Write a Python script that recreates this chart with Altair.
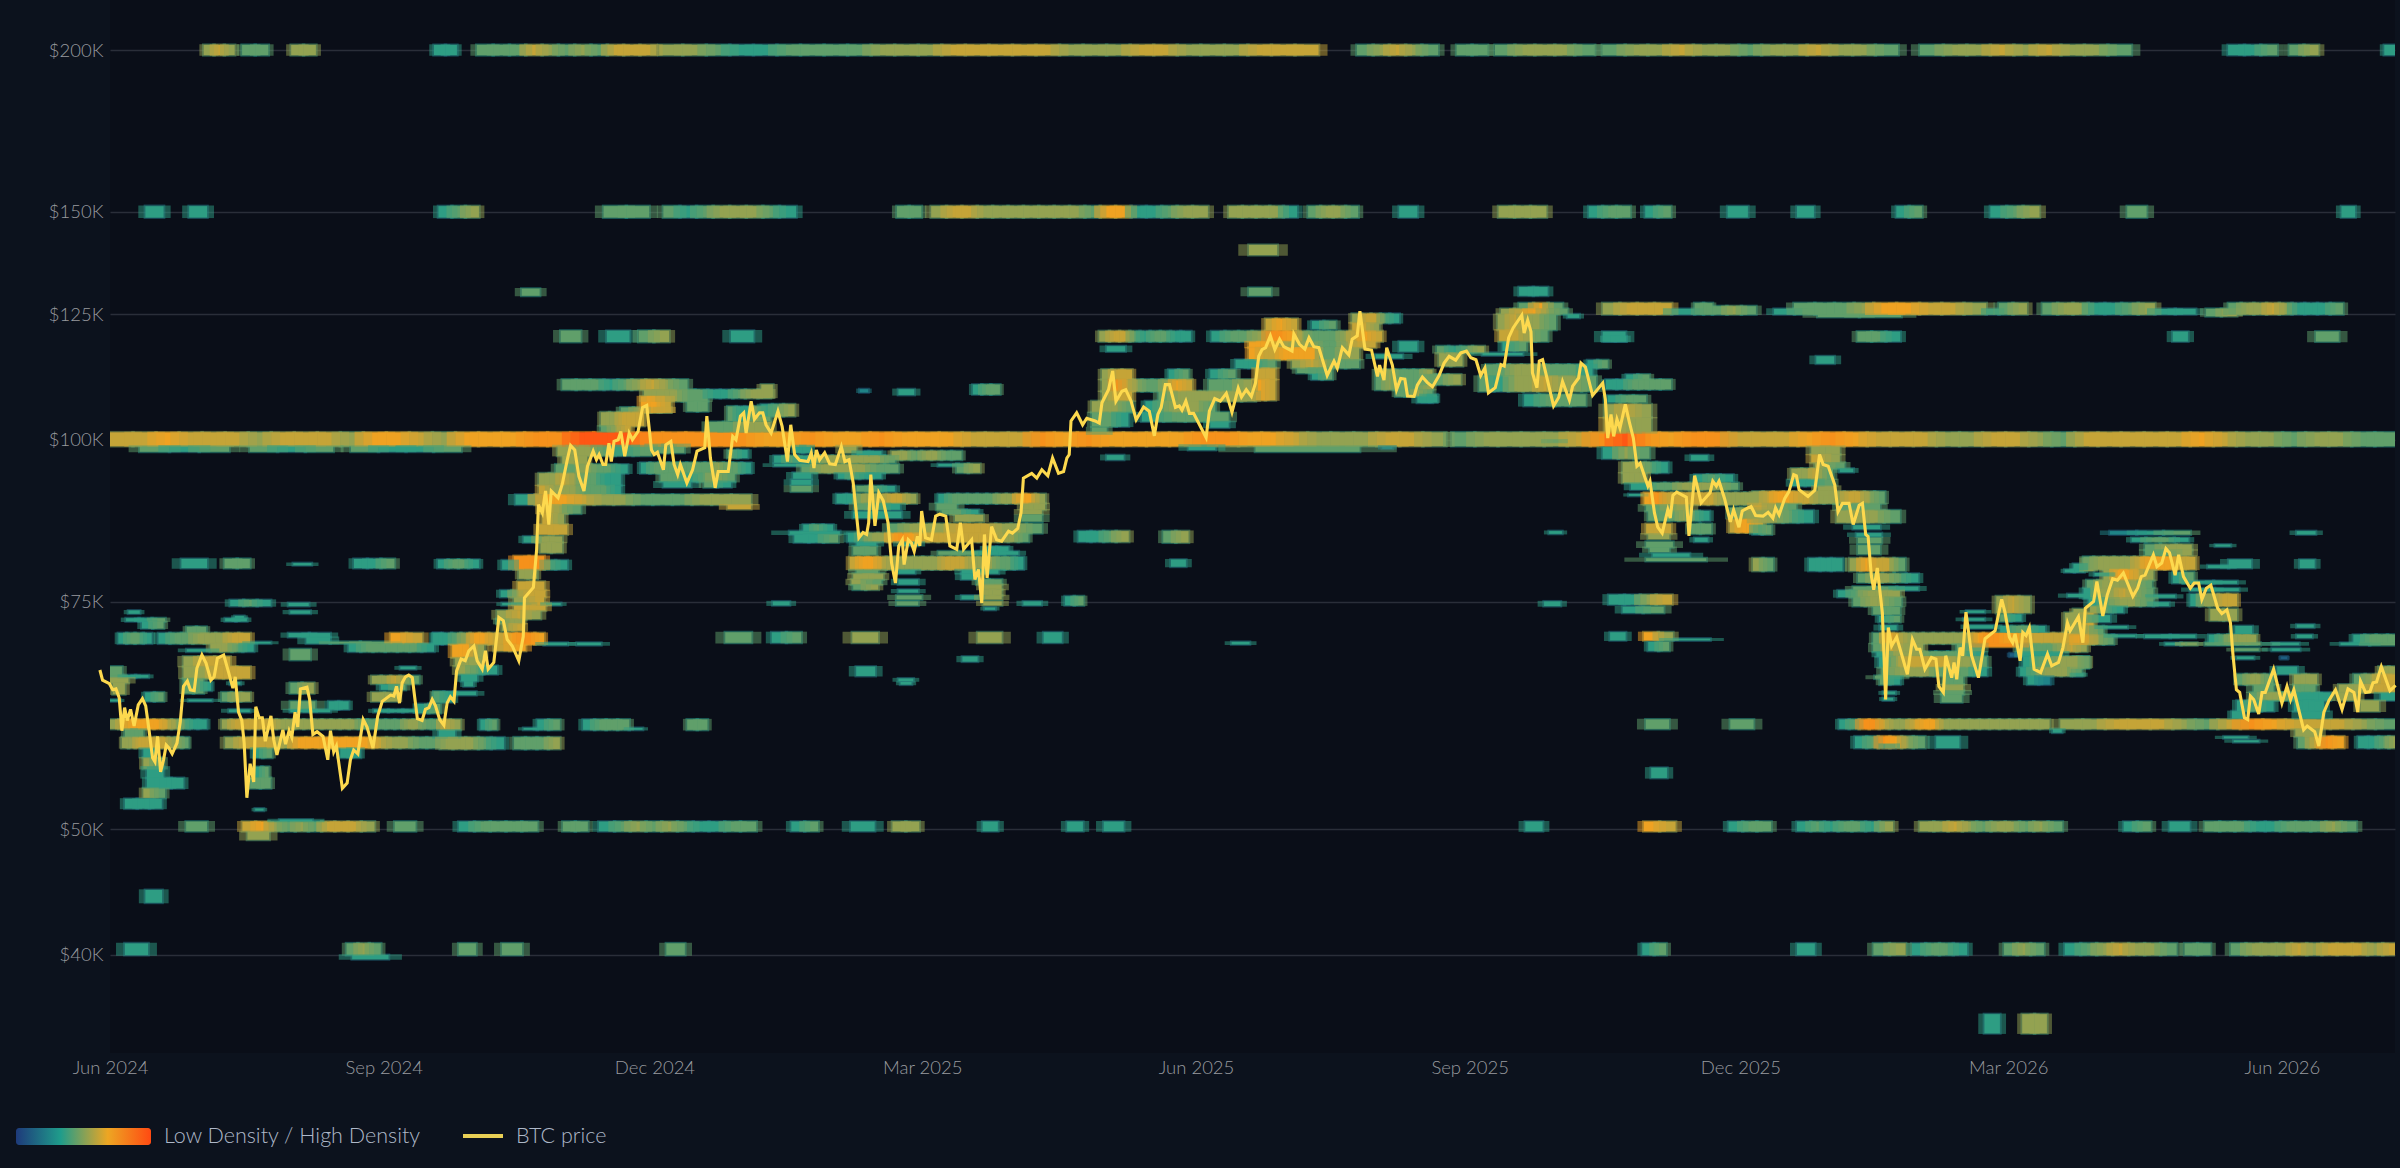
import altair as alt
import pandas as pd

alt.data_transformers.disable_max_rows()

# ---- BTC price: days since 1 Jun 2024, price in $K ----
price_day = [-3.4,-2.5,-0.2,0.9,2.0,3.1,4.0,4.9,5.8,6.9,8.1,9.5,10.9,12,13.1,14.3,15.1,16,17,18,18.9,19.8,20.9,22.5,23.6,24.7,26,27,28.3,29.2,30.9,32.3,33.9,35,36.1,38.2,39.8,41.3,42.1,43.2,44.3,45.1,46,47.1,48.3,49,50.1,51.2,52.2,54.1,55,56.1,58.1,59,60.2,61.1,62.2,63.1,64,66.2,67.1,68.2,69.6,71.6,73.2,74.1,75.2,76.1,78.1,79.7,80.8,81.9,83.3,85.1,86.4,88.4,90,91.5,94.3,95.4,96.3,97.3,98.2,99.3,100.4,101.6,103.3,104.9,106,107.2,108.3,109.4,
 110.8,112.2,113.3,114.4,115.6,116.5,118,119.4,120.6,122.3,123.4,125.1,126.2,127.1,129,130.7,132.2,133.5,135.2,137.4,138.9,139.3,142.3,143.4,144,145.3,146.4,147.5,148.3,150.6,152,153.7,154.8,156.2,157.6,159.3,160.5,162.4,163.5,164.4,165.7,166.6,167.7,168.5,169.4,170.8,171.7,173,174.5,175.6,177.5,179,180.4,182,182.9,184,186,186.8,188.5,189.6,190.8,191.7,193.9,195.8,197.3,199.9,200.6,201.8,203.4,204.4,207.8,209.3,210.4,211.9,213,213.8,215.5,216.6,218.3,219.4,220.5,222.2,
 224.5,225.9,227.7,228.8,230.1,231.8,234.6,235.7,236.6,237.4,238.5,240.2,241.9,243.8,245.8,247,248.4,249.8,251.7,253.1,254.3,255,255.7,257.1,258.4,259.9,261.5,262.7,264,265.1,266.3,266.9,268.3,269.4,270.3,271.4,272.2,272.8,274.1,276.1,277.5,278.9,280.9,282.3,284.6,285.8,286.9,289.6,290.7,291.9,293,293.9,294.8,296.3,298,299.7,302,303.3,305.1,306.2,307,309.8,311.5,313.2,315.2,316.8,318.8,320.5,321.6,322.4,323,324.9,326.9,328.3,331.1,332.5,333.4,
 335.6,337,338.1,340.1,341.4,343.2,344.9,347.4,349.3,351,352.2,353.3,354.7,356.1,358.1,359.4,360.3,361.6,362.8,364.2,368.4,369.5,371.3,373.2,375.2,377.1,379.2,380.3,381.9,383.6,385,386.1,387.2,388.4,390,391.5,393.1,394.5,397.3,397.9,399.8,401.6,403,404.6,406.3,409.1,411.4,412.5,414.2,416.4,417.5,419.2,420.1,421.8,424,426,426.7,428.2,429.1,431,432.4,433.8,435.2,436.1,438.3,439.4,441.1,442.8,444.5,
 446.7,448.4,450.1,452.3,454,455.9,457.4,459.1,460.7,462.1,463.3,465.6,467.5,468.6,470.1,471.6,474.5,475.3,476.5,477.6,478.1,479.6,480.4,481.5,485.2,486.9,488.2,490.5,491.6,493.6,494.4,495.9,498.3,501.7,502.6,503.4,504.5,505.4,506.5,507.5,509.3,510.7,512,513.2,514.3,515.7,516.9,517.6,519.1,520.2,521.7,523.6,524.4,525.3,526.6,529.8,530.7,532.6,534.8,536.3,537.8,538.7,539.9,540.8,542.7,544.6,545.7,547.5,548.6,550.5,551.6,553.1,555.6,
 557.3,558.9,559.8,561,562.9,564.3,565.9,566.8,567.7,570.7,573,574.6,575.8,577.5,579.7,580.8,582.3,584.5,585.9,587.9,589,590.1,590.9,592,592.8,594,595.7,596.8,597.7,598.8,600.5,604.1,605.8,607.2,608.3,610,612.2,613.7,614.7,616.2,617,619,619.8,620.7,621.8,622.7,623.8,625.7,628,630.2,633.6,635.8,636.9,638.4,639.5,640.3,642,642.9,644,645.1,646.7,648.9,651.2,652.6,654.9,656.4,657.9,658.8,661.6,663.1,663.9,666.7,
 667.8,669.8,671.3,673.1,674.7,676.7,679.9,681.5,682.7,684,686.8,688,689.6,691,692.2,694.1,695.3,696.9,699.2,700.5,702,703.1,704.6,706.1,708.4,709.8,711.5,712.7,713.5,714.7,715.8,717.4,718.5,719.4,720.5,722.2,723.3,724.4,727.2,730,731.7,732.9,734,737.3,738.5,741,742.4,744.1,745.8,748,750.2,752.2,754.2,755.5,756.4,758.1,759.6,760.6,761.8,763.4,766.3,768.2]
price_k = [66.4,65.2,64.8,64.1,64.2,63.2,59.6,62.1,60.7,61.9,60.1,62.4,63.1,62.3,59.7,56.8,56.4,59,55.4,56.6,58.1,57.8,57.2,58.3,60.5,64.5,65.1,64.1,64,66.6,68.2,67.2,65.2,65.6,67.8,68.2,66.2,64.3,65.6,61.6,60.7,58.3,52.9,56.2,54.4,62.2,61,61,58.5,61.2,58.7,57.1,59.7,58.2,59.6,58.9,61.6,60,64.2,64.4,63,59.2,59.5,59,56.6,59.6,57.4,58,53.8,54.3,56.6,57.6,57.2,60.8,60,57.8,61.2,62.8,63.5,63.4,64.5,62.6,64.9,65.6,65.8,65.5,60.9,60.7,61.9,62.1,63,62.3,
 60.8,60.2,62.6,63.3,62.8,66.3,67.7,67.5,68.7,69.3,67.5,66.5,68.7,66.5,67.3,72.9,72.5,70.1,69.3,67.5,70.5,75.5,76.9,82.3,89.1,87.8,91.3,86,91.3,90.2,92.4,96.5,99,98.2,93.7,91.3,95.4,98,96.5,97.4,95.7,95.7,99.4,96.2,99.7,100,101.5,97.1,101.2,100,101.5,105.9,106.3,98.2,97.4,97.8,94.8,99.1,99.7,95.7,94,95.7,92.6,94.8,98,98.6,104.3,96.8,91.8,94.5,94.5,100.6,100,104.3,104.9,101.2,107.1,103.7,104.9,104.9,102.7,101.2,
 105.2,102.4,96.2,102.7,97.4,96.4,96.2,97.7,95.1,98.2,96.5,97.7,95.8,95.7,98.8,96.2,96.5,92.6,84,84.8,84.5,86.3,94,85.8,91,89.7,86.3,80.3,77.5,82.8,83.7,80.1,83.7,83.2,82,84.2,82.8,88.1,84,83.7,87.3,87.6,87.3,82.8,82.3,86.3,82.3,83.7,78,79.4,74.8,84.5,78.2,85.7,83.7,83.5,85,84.7,85.4,87.8,93.4,94.2,93.4,94.8,93.8,96.8,94.2,94.5,96.8,97.4,103.4,104.9,102.7,103.9,103.4,103,106.8,
 109.3,113,107.1,109,109.3,107.1,103.6,106,105.2,100.7,104.6,105.9,110.3,110.3,105.9,106.2,105.4,107.1,104.8,104.8,100.4,105.2,107.6,107.1,108.6,105,109.6,107.9,109.3,108,110.6,116,117.4,117.8,120.3,117.4,119.6,118,117.1,120.7,118.5,117.5,119.9,118,117.8,112.1,115,113.6,117.8,116.3,119.6,120.3,125.7,117.5,117.3,111.9,114.2,111.2,117.8,114.2,109.3,111.5,111.4,108.1,108,110.2,111.8,110.7,109.9,
 112.1,114.6,116,115.2,116.7,117.1,115.7,115.3,112.1,113.6,108.7,109.7,114.3,114,119.9,122,124.8,120.9,123.7,121.2,112.6,109.7,115,115.3,106.2,107.8,110.9,107.3,110,111.6,114.6,113.8,108.2,110.6,107.4,100.3,104.6,100.6,103.7,102.1,106.5,103.1,100.3,95.4,95.9,93.8,92.1,92.9,87.8,85.6,84.7,88.3,87,90.6,91.1,90.3,84.3,93.8,89.4,90.2,91,92.9,92.1,92.9,90,86.4,88.3,85.6,88.1,88.6,88.8,87.4,87.3,
 87.9,87,88.6,87.5,90.1,91.2,94,93.8,91.5,90.4,91.4,97.4,95.7,95.4,92.3,88,89.3,89.3,86,89,89.3,84.5,84.2,78.5,76.6,79.6,73.5,63,71.6,69.3,70.4,65.9,70.1,68.9,68.9,66.5,67.9,67.7,64.5,63.8,68.1,65.5,67.3,65.3,69.1,68.1,73.6,68.1,65.5,70.2,71.2,75.3,73.6,70.4,69.7,70.8,67.5,71,70.6,71.6,66.5,66.1,68.3,66.9,67.3,69.1,72.2,71.2,73,69.7,74.1,75,
 77.7,73.1,75.9,78.1,77.9,78.9,75.7,76.8,78.4,78.6,81.5,79.8,80.3,82.4,81.8,78.6,81.5,78.4,76.8,77.5,77.5,75.3,76.8,77.2,74.1,73.4,73.9,72.2,68.4,64.1,63.8,61,60.8,63.4,63,61.4,63.8,63.8,66.5,62.6,64.5,63,64.1,59.7,60.1,59.5,58,61.6,62.9,64.1,61.9,64.2,63.8,61.6,65.1,63.8,63.9,64.9,65,66.8,64,64.6]

# ---- Density cells: (price $K, price $K, first day, last day, density digits 0-9 along the run) ----
runs_round_levels = [
 (198.2,201.8,31.5,41.9,"565"),(198.2,201.8,44.4,53.2,"44"),(198.2,201.8,60.9,69.2,"55"),(198.2,201.8,108.9,116.6,"33"),
 (198.2,201.8,123.3,183.6,"44465454666"),(198.2,201.8,184.6,406.2,"5543344445556666655566555666"),
 (198.2,201.8,419.1,446.4,"45654"),(198.2,201.8,452.6,463,"44"),(198.2,201.8,465.5,499,"45554"),
 (198.2,201.8,501.6,601,"4556554556554"),(198.2,201.8,608.3,679.4,"455656554"),(198.2,201.8,711.9,728.4,"334"),
 (198.2,201.8,732.5,742.3,"45"),(198.2,201.8,764.4,768,"3"),
 (148.5,151.5,11.9,18,"3"),(148.5,151.5,26.6,32.6,"3"),(148.5,151.5,110.4,124,"345"),(148.5,151.5,165.9,181.2,"44"),
 (148.5,151.5,186,230.6,"43455543"),(148.5,151.5,264.5,272.7,"44"),(148.5,151.5,276,369,"566555555547733455"),
 (148.5,151.5,376,399,"55553"),(148.5,151.5,402.7,419.5,"4554"),(148.5,151.5,433.3,439.4,"3"),(148.5,151.5,466.7,482.8,"555"),
 (148.5,151.5,497,511,"344"),(148.5,151.5,516,524.6,"34"),(148.5,151.5,543.7,550.5,"3"),(148.5,151.5,567,572.7,"3"),
 (148.5,151.5,600.4,609,"34"),(148.5,151.5,632,648.5,"345"),(148.5,151.5,678,684.5,"4"),(148.5,151.5,750,754.6,"3"),
 (98.9,101.3,0,449,"6676665666577657778899988888778778777666878777788776555665"),
 (98.9,101.3,451,769,"45555689878866678766655665466666765545544"),
 (97.9,98.9,10,40,"434"),(97.9,98.9,47,75,"434"),(97.9,98.9,81,118,"4334"),(97.9,98.9,385,420,"4"),
 (50.7,49.85,25.6,32.6,"4"),(50.7,49.85,44.5,88.9,"6754546665"),(50.7,49.85,95.7,102.7,"4"),(50.7,49.85,117.2,143.7,"34444"),
 (50.7,49.85,152.2,160.6,"44"),(50.7,49.85,164.3,217.2,"3454543344"),(50.7,49.85,229,238,"34"),(50.7,49.85,249,257,"3"),
 (50.7,49.85,263,272,"55"),(50.7,49.85,293.3,298.4,"3"),(50.7,49.85,321.7,327,"3"),(50.7,49.85,334,340.7,"3"),
 (50.7,49.85,475.7,481.5,"3"),(50.7,49.85,515.5,526.2,"76"),(50.7,49.85,544,558.3,"344"),(50.7,49.85,567,599.3,"3434435"),
 (50.7,49.85,608.2,656.2,"5565455454"),(50.7,49.85,676.8,685.9,"34"),(50.7,49.85,692.2,699,"3"),(50.7,49.85,704,755,"4443344454"),
 (49.85,49.1,46.2,53.5,"5"),(50.9,50.7,57,68,"3"),
 (44.9,43.9,11.9,17.5,"3"),
 (40.83,40,5,12.8,"3"),(40.83,40,79.5,91,"454"),(40,39.7,81.4,93.6,"3"),(40.83,40,117.2,123,"4"),(40.83,40,131.7,138.5,"4"),(40.83,40,187,193.2,"4"),
 (40.83,40,515,523,"34"),(40.83,40,567,573,"3"),(40.83,40,592.7,603.5,"45"),(40.83,40,605.6,624.2,"3443"),(40.83,40,636.6,650,"454"),
 (40.83,40,657,694.6,"3456554"),(40.83,40,697.3,706,"44"),(40.83,40,712.8,769,"45556566656"),
 (36,34.8,630,635.2,"3"),(36,34.8,642.7,651,"55"),
 (141.4,138.9,382.8,392.3,"5"),(131,129.2,382.8,390.2,"4"),(130.8,129.2,138.4,144.4,"4"),
 (121.4,119,151.5,158.2,"4"),(121.4,119,167,174.6,"3"),(121.4,119,177.7,187.9,"45"),(121.4,119,208.7,216.3,"3"),
]
runs_top_right = [
 (127.5,125,501.7,524.9,"5666"),(126.2,125,524.9,532.6,"3"),(127.5,125,532.6,538.6,"44"),(126.8,125,538.6,553.2,"454"),
 (126.2,125,559.3,573,"34"),(127.5,126.2,566,573,"4"),(127.5,125,573,592.8,"445"),(125,124.4,574,602,"44"),(127.5,125,592.8,608.2,"77"),
 (127.5,125,608.2,630.6,"665"),(126.2,125,630.6,634.9,"3"),(127.5,125,634.9,644.3,"45"),(127.5,125,649.5,664.9,"455"),
 (127.5,125,664.9,687.3,"3345"),(126.2,125,687.3,701,"33"),(126.2,124.6,704.5,714.8,"45"),(127.5,125,712,750.5,"455653334"),
 (121.2,119.1,587.3,601.7,"443"),(121.2,119.1,501.7,509.4,"3"),(121.2,119.1,693.3,698.4,"3"),(121.2,119.1,741.4,749.1,"4"),
 (116,114.5,573.5,579.5,"3"),
]
runs_2024_lower = [
 (75.2,74.4,40.4,54,"343"),(74.8,74.4,60,66.8,"3"),(73.8,73.4,6.2,10,"3"),(73.8,73.4,60.6,67.3,"3"),(72.8,72.4,5.4,18.5,"334"),
 (72.8,72.4,38.7,46,"33"),(73.1,72.8,42,45,"3"),(72.4,71.5,10.7,18,"34"),(71.7,70.9,25.8,32.3,"44"),
 (70.9,69.6,2.8,14,"3443"),(70.9,69.6,16.3,47.1,"34455566"),(69.8,69.6,47.1,54,"3"),(70.9,70.4,60,74,"33"),(70.4,69.6,66,74,"3"),
 (69.8,69.6,74,94.3,"44"),(70.9,69.6,94.3,105,"76"),(70.9,69.6,108.8,111,"3"),
 (69.6,68.6,80.2,108.9,"3444443"),(69.6,68.6,33.7,48.3,"5543"),(68.9,68.6,25.8,33.7,"3"),(68.9,67.6,60.6,67.3,"4"),
 (68,66.8,24.7,40.4,"566"),(66.8,65.4,24.7,47.1,"55666"),(66.8,66.5,97.6,102.7,"3"),(65.7,64.8,88,103.8,"55654"),
 (66.8,65.8,0,4,"4"),(65.8,65.5,0,12.9,"433"),(65.5,64.9,0,6.2,"5"),(64.9,63.6,1,5,"5"),(65.4,63.7,24.7,31.4,"44"),(65,64,31.4,34,"3"),
 (64.9,63.7,60.6,68.5,"45"),(65,64.7,40.4,43.8,"3"),(64.7,64.1,91,99.3,"34"),
 (63.8,62.8,11.8,18,"34"),(63.8,62.8,37.6,47.1,"455"),(63.8,62.8,88,96.5,"55"),(63.8,62.8,108.8,111,"3"),
 (63,62.8,0,3.4,"3"),(63,62.8,26.4,34.2,"3"),(62.8,61.9,60.6,69,"4"),(62.8,61.9,73.5,80.2,"33"),(62.5,61.5,103.3,111,"34"),
 (61.9,61.6,40,47,"3"),(61.9,61.6,60.6,74,"33"),(61.9,61.6,88.7,103.3,"333"),
 (60.8,59.8,0,32.5,"56777765433"),(60.8,59.8,37.6,111,"566666555555555444445544"),
 (59.8,58.9,5,11.2,"44"),(58.9,57.8,4,26.4,"5566666554"),(58.9,57.8,38.7,111,"5666577777765544"),
 (57.8,56.8,11.2,15.2,"3"),(57.8,56.8,48.3,54.4,"34"),(57.8,56.8,77.4,84.2,"33"),(56.8,55.7,11.2,18,"54"),
 (55.9,54.8,12.4,18,"3"),(55.9,54.8,48.8,53.3,"34"),(54.8,53.8,12.4,24.7,"333"),(54.8,53.8,47.1,54,"44"),(53.8,52.9,11.2,18.5,"54"),
 (52.8,51.9,5,17.4,"333"),(51.9,51.7,48.8,51.6,"3"),
 (80.9,79.6,24,32.6,"3"),(80.9,79.6,38.5,47,"44"),(80.3,80,61.6,67.7,"3"),(80.9,79.6,82,95.6,"334"),
]
runs_late_2024 = [
 (111.3,109.3,152,194.1,"444345654"),(109.3,107.1,179.5,200.9,"55544"),(109.3,107.7,200.9,222,"33455"),(108,105,178.4,188.5,"776"),
 (107.1,105.2,194,200.9,"44"),(105.9,105,171.7,188.5,"4566"),(105,102.5,165,179.5,"55666"),(102.5,101.4,165,175,"456"),
 (106.1,103.4,207.6,222,"43354"),(103.2,101.4,200.9,222,"4455"),
 (99,97.2,150.4,163.8,"555"),(99,97.2,163.8,181.8,"434"),(97.2,95.7,152,160.4,"55"),(95.7,94.2,149.8,174,"445443"),
 (99.2,97.7,181.8,193,"44"),(98.2,96.8,207.6,214.3,"43"),(96,94.2,178.4,215.4,"344444445443"),(94.2,92.8,185,210,"443454"),
 (92.8,91.9,186,195.2,"3"),(92.9,91.9,199.7,208.7,"43"),(94.2,92.2,144.2,171.7,"55654433"),(92.2,90.7,144.2,171.7,"65554443"),
 (90.7,89.1,136.3,215.4,"377655444555"),(89.1,88.4,207.6,215.4,"6"),(89.1,87.7,144.7,158.2,"654"),(87.7,86,145.3,152.6,"65"),
 (86,84.5,144.2,153.7,"66"),(84.2,83.3,139,152,"355"),(83.3,81.8,144.7,152,"55"),
 (81.3,79.4,135.8,145.9,"88"),(80.7,79.4,131.8,135.8,"3"),(80.7,79.4,145.9,153.7,"43"),(80.8,79.6,110.2,124,"3443"),
 (79.4,78.1,137.4,143.6,"55"),(77.7,76.5,137,146,"66"),(76.5,75.6,131.3,146.4,"3566"),(75.6,74.8,135.8,145.9,"56"),
 (74.8,74.5,131.8,151.5,"3463"),(74.5,73.8,135.8,146.4,"66"),(73.8,72.7,130.1,144.7,"565"),(72.7,72.1,130,139,"455"),
 (72.1,71.2,131.8,139,"56"),(70.9,69.5,108.6,145.9,"334577667887"),(69.7,69.4,145.9,153.7,"3"),(69.7,69.4,157,165,"3"),
 (69.5,67.9,115,125.7,"775"),(69.5,68.7,129,139.7,"67"),(67.9,66.9,116,125,"55"),(66.9,65.9,116.7,130.1,"543"),
 (65.9,65.1,118,123.4,"3"),(65.1,64.5,119,122,"3"),(63.9,62.7,108.8,115.6,"43"),(63.9,63.5,115.6,123,"3"),
 (60.8,59.7,111,117.8,"65"),(60.8,59.7,124.5,130,"34"),(60.8,59.7,143.6,151.2,"34"),(59.9,59.7,139,143.6,"3"),(60.8,59.7,159,174.5,"3444"),(59.9,59.7,174.5,179,"3"),(60.8,59.7,194,200.8,"44"),
 (59.7,58.8,110.5,116,"3"),(58.9,57.7,111,132.4,"55543"),(58.9,57.7,135.8,151.2,"4445"),
 (71,69.7,206.8,215.6,"4"),(71,69.7,222.4,232.3,"34"),
]
runs_early_2025 = [
 (110.3,107.8,218.9,222.8,"5"),(106.5,104.3,218.9,230.1,"345"),(109.4,108.8,252,254.8,"2"),(109.4,108.3,265,270.3,"3"),(110.3,108.4,290,299.1,"344"),
 (99,97.7,230,235.7,"33"),(99,97.7,245.8,250.9,"5"),(98,97.2,250.9,259.3,"33"),(98,96.5,262.7,286.2,"5545544"),
 (97.2,96,223.2,231.2,"34"),(97.2,96,231.2,235.7,"3"),(97.2,96,235.7,263.8,"45555554"),(95.8,95.4,223.2,233.5,"3"),(95.8,95.4,278.4,285.1,"3"),
 (95.7,94.3,232.4,265,"4555544"),(95.8,94.3,284.6,292.4,"45"),(94.3,93.3,229.6,235.7,"3"),(94.3,93.3,244.7,259.3,"3433"),
 (93.1,92.3,229,235.7,"3"),(92.1,91.2,229,235.7,"4"),(92.1,91.2,250.9,263.8,"443"),
 (90.8,89.3,244.2,271,"33555665"),(90.8,89.3,278.4,314.3,"34444455775"),(89.3,88.3,250.3,265.5,"443"),(89.3,88.3,277.8,284.6,"4"),(89.3,88.3,306.4,314.3,"55"),
 (88.3,87.6,279.5,291.9,"443"),(88.3,87.6,306.4,313.2,"5"),(88,87,249.8,266,"33"),(87.5,86.5,284,293.5,"55"),(87.5,86.5,306.4,313.2,"4"),
 (86,85,233,243,"343"),(85,84.5,228.4,245.3,"3"),(84.5,83.3,230,244.7,"334"),(86.1,84.7,261.5,313.2,"4555666554"),
 (84.7,83.4,248,308.7,"345578766666666554"),(83.4,82.8,250.9,257.6,"3"),(83.4,82.8,265.5,271.6,"3"),(85,83.4,325.5,342.4,"3345"),(85,83.3,354,362.5,"45"),
 (82.7,81.5,249.8,257.6,"44"),(82,81.5,278.4,305.3,"4433"),(82.7,82,294,302,"33"),
 (81.2,79.4,248.6,307,"6776555555666555443"),(80.8,79.8,356.6,361.6,"3"),
 (79.4,78.8,250.9,258.2,"4"),(79.4,78.8,265,270.5,"3"),(79.4,78.8,286.2,298.6,"33"),(78.8,78,249.8,259.9,"55"),(78.8,78,286.2,291.9,"3"),
 (78,77.3,249.2,259.3,"54"),(78,77.3,265,271.6,"3"),(78,77.3,291.3,299.7,"44"),(77.3,76.6,249.8,258.2,"45"),(77.3,76.6,293.5,299.7,"5"),
 (76.6,75.8,293.5,299.7,"55"),(76.6,76.2,265,271.6,"3"),(75.8,75.3,264.4,272.8,"4"),(75.8,75.3,286.2,291.9,"3"),(75.8,75.3,293,299.7,"5"),
 (75,74.5,264.4,271.6,"4"),(75,74.5,293.5,299.7,"5"),(75,74.5,222.8,228.4,"3"),(75,74.5,307,313,"3"),(75.7,74.5,321,327.2,"34"),(74.2,73.9,294,297.5,"3"),
 (71,69.7,249.5,258.2,"5"),(71,69.7,291.6,299.7,"5"),(71,69.7,313.8,319.9,"3"),(69.8,69.5,377,383,"3"),(68,67.4,286.5,291.6,"3"),
 (66.8,65.7,250.8,257.2,"3"),(65.4,65.1,265,270,"3"),(65,64.7,265.7,269.4,"3"),(75,74.4,482,487.5,"3"),
]
runs_mid_2025 = [
 (124,121.5,388.4,399,"676"),(123.5,121.8,404,412,"34"),(125.1,123.1,417.5,433.3,"56643"),(123.1,121.3,417.5,426.5,"665"),
 (121.3,119.1,332.5,363.3,"566434433"),(121.3,119.1,370.2,388.4,"3445"),(121.3,119.1,388.4,427.6,"88754445676"),
 (118.1,117,335,341.2,"3"),(119.1,117.8,382.8,425.4,"77655544566"),(117.8,115.3,382.8,419.8,"76677774455"),(119.1,117,433.3,439.4,"3"),
 (116.4,115.6,425.4,434.4,"3"),(115.3,113.6,378.3,391.7,"334"),(115.3,113.6,397.3,419.8,"56544"),(113.6,111.3,404,410.8,"34"),(113.6,112.6,399,408,"44"),
 (113.3,111.3,333.4,343.5,"566"),(113.3,111.3,355.8,362.5,"34"),(113.3,111.6,369.8,378.3,"34"),(113.6,111.3,385,391.7,"66"),(111.3,107.3,385,391.7,"76"),
 (111.3,109,333.4,363.7,"586544576"),(111.3,109,369.3,383.9,"445"),(113.3,109.3,425.4,444.5,"454445"),
 (109,107.1,333.4,343.5,"566"),(109,107.1,352.4,385,"4555555"),(109.3,108,432.1,444.5,"4454"),(108,106.8,439.4,444.5,"3"),
 (107.1,105,330,343.5,"5554"),(107.1,105,348,371.5,"345554"),(105,102.4,330,342.3,"443"),(105,103.3,346.8,376,"3444"),(103.3,102.2,369.8,376,"3"),
 (102.2,101,330,335,"4"),(99.1,98.2,362.5,371.5,"3"),(98.9,98.4,427.6,431,"2"),(97.3,96.5,335,340.7,"3"),
 (131.2,129.2,473.6,483.2,"33"),(127.5,126.2,473.6,488.2,"474"),(126.2,125,467.5,489.9,"56754"),(125,124.2,489.9,493.8,"3"),
 (125,121.6,466.4,486,"56554"),(121.6,119.1,466.9,483.2,"6654"),(119.1,117.1,468,476,"34"),(118.1,116.7,446,461.9,"4345"),
 (116.7,114,446.7,454.6,"55"),(116.7,116.2,461.3,474.8,"3"),(120.2,119.1,502.3,509.6,"33"),(115.2,113.6,496.6,503.4,"34"),
 (114.3,112,462.4,498.3,"445554443"),(112,109,460.2,499.5,"43556554"),(112.3,111.3,509.6,517.4,"34"),(111.3,109.4,502.8,524.7,"334444"),
 (112.3,110.3,441.1,454,"445"),(108.4,106.9,441.1,446,"33"),(108.4,106.2,475.3,496,"3444"),(108.2,106.9,503.4,516.3,"344"),
 (106.5,104,502.3,518,"565"),(104,101.2,502.3,518,"655"),(100,99.5,483,488,"4"),(98.7,96.7,501.7,517.4,"354"),(97.3,96.4,531.4,537,"3"),
 (96.1,94.3,508.4,523.6,"5543"),(94.3,92.6,508.4,516.3,"55"),(94,92.8,532.6,545.5,"343"),(92.6,91.5,511.2,517.4,"3"),(92.6,91.5,518.5,547.2,"4455554"),
 (90.8,90.5,510.5,515.2,"3"),(91,89.1,515.7,555.6,"7866666655555"),(89.1,88.1,516.3,531,"45"),(88.1,86.6,517,537.6,"444543"),
 (88.6,86.9,544.4,555.6,"455"),(86.1,84.6,516.3,524.7,"66"),(86.1,84.6,530.9,538.2,"44"),(86.8,84.8,544.4,555.6,"6776"),(84,83.4,532.6,537,"3"),
 (85,84.6,483.7,488,"3"),(84.6,83.8,517,524.1,"5"),(83.4,82.6,516.3,525.3,"4"),(82.6,81.9,517.5,524.1,"4"),(81.7,81.2,518.5,530.9,"3"),(81,80.6,516.3,536.5,"4"),
 (75.9,74.6,503.7,525,"3356"),(74.3,73.5,508.4,522.2,"34"),(71,70,504.2,509.4,"3"),(71,70,515.5,525.3,"75"),(70.2,70,525.3,537.8,"3"),(69.8,68.7,517,524,"34"),
 (60.8,59.8,516.2,524,"4"),(60.8,59.8,544.6,552.4,"4"),(55.8,54.8,518,523.3,"3"),
]
runs_late_2025 = [
 (98.9,97.4,571.8,581.4,"55"),(97.4,96,571.8,581.4,"65"),(96,95,573,583,"54"),(95,94.4,581.4,585.9,"3"),(95,93.2,565.1,579.1,"5564"),(93.2,92.1,565.1,579.1,"334"),
 (92.1,90.7,574,579.7,"5"),(91.2,89.3,552.2,596.5,"5677665556654"),(89.3,88.2,552.2,566.8,"654"),(89.3,88.2,581.4,594.9,"44"),
 (88.2,86.3,552.2,572.4,"5543"),(88.2,86.3,580.3,601.6,"5554"),(85.9,84.5,552.2,558.4,"34"),(85.9,85.3,585.9,594.9,"3"),(84.7,84.2,587,595.4,"3"),(84,83.2,587.5,595.4,"4"),
 (82.9,81.6,587.5,594.9,"4"),(81,79.2,552.2,559,"54"),(81,79.2,571,582.3,"333"),(81,79.2,584.7,603.3,"57664"),(78.8,77.6,587.5,607.8,"45543"),
 (77,76.5,585.9,607.8,"443"),(76.5,75.6,580.8,601.6,"34555"),(75.6,74.4,585.9,602.1,"4554"),(74.3,73.3,592.6,601.6,"44"),(73.1,72.3,594.6,601.6,"34"),(71.9,71.3,594.9,600.5,"3"),
 (70.9,69.6,592.6,666.7,"4765555555788776666667"),(69.6,68.6,592.6,609.4,"4655"),(69.6,68.6,620.7,629.6,"44"),(69.6,68.6,640.9,664.4,"4444565"),(69.6,69.2,629.6,640.9,"8"),
 (68.6,68,593.7,629.6,"355544443"),(68.4,68,638.6,641,"1"),(68.6,68,642.6,656,"33"),(68,66.7,594.6,630.8,"356666554"),(68,66.7,643,665,"344555"),
 (66.7,65.7,595.4,630.8,"45554443"),(66.7,65.7,642,662.7,"345554"),(65.7,65.4,593.2,601.6,"4"),(65.7,64.7,594.9,601.6,"43"),(65.7,64.7,616.2,622.9,"44"),(65.7,64.7,644.5,652,"32"),
 (64.7,64,616.2,622.9,"5"),(64,63.6,615.6,623,"4"),(63.9,63.6,596,600,"3"),(63.6,62.7,615.6,622.4,"4"),(63.2,62.9,596,599.3,"3"),
 (75.7,73.5,634,645.4,"565"),(73.3,72.4,635.3,642.5,"43"),(73.8,73.5,624,630,"3"),(72.8,72.5,623,630,"3"),(71.9,71.5,625,633,"3"),(71.8,71,635.3,650.4,"3443"),
 (79.4,79,657,663.5,"33"),(81,79.2,663.3,666.7,"5"),(76,75.6,658,666.7,"3"),(73.5,71,657.1,666.7,"556"),
 (60.8,59.8,581.2,651.9,"348865567755555555555"),(60.8,59.8,655.5,769,"556665468766654"),(59.8,59.4,653,656,"3"),
 (59,57.8,586.5,610,"348754"),(59,57.8,613.8,621.6,"3"),(58.2,57.8,596,600,"3"),(59,57.8,735.4,750.8,"4687"),(59,57.8,755.6,769.4,"3345"),(59,58.8,710.5,718.5,"3"),
]
runs_2026 = [
 (85,84.5,672.2,699.2,"234"),(84,83.4,679.5,698.6,"3443"),(83,82.7,707.6,712.7,"3"),(85,84.5,735,741.3,"3"),(83,82.2,684,699.7,"455"),(82.2,81.4,684,699.7,"445"),
 (81.2,79.4,663.3,700.9,"45555677766"),(80.2,79.4,659.9,663.3,"3"),(80.8,79.6,712.1,719.7,"3"),(80,79.6,705.1,712.1,"3"),(80.8,79.6,736,741,"3"),
 (79.4,77.9,670,686.8,"57765"),(79,77.5,693.3,700.3,"34"),(78.9,78.5,667,672,"3"),(77.9,76.8,664.4,686.3,"455554"),(77.8,77.4,699.2,714.9,"33"),
 (76.8,75.4,663.3,686.8,"355654"),(76.8,76.4,699.2,715.5,"33"),(75.9,75.5,686.8,694.1,"3"),(75.5,74.4,665,686.8,"34554"),(74.9,74.4,686.8,692,"3"),
 (76,74.4,699.2,714.9,"35566"),(74.4,73.5,665.5,676.7,"543"),(74,72.5,705.9,714.9,"55"),(73.2,72.3,659.9,672.2,"53"),(74,72.4,659.9,663.3,"5"),
 (71.8,70.7,659.9,670,"554"),(71.8,71.5,670,678,"3"),(70.7,69.5,659.9,673.4,"7654"),(70.7,70.4,673,680.7,"3"),(70.7,70.3,684,700.9,"33"),(69.7,69.4,690.8,701.4,"35"),
 (71.8,70.8,714.3,720,"3"),(70.7,69.5,705.4,721.4,"34555"),(69.7,69.4,704.2,722.7,"4"),(69.7,69.4,726.7,735.7,"3"),(70.7,70.3,735,740.1,"3"),
 (69.7,69.4,749.7,769.3,"34"),(70.7,69.7,754,769.3,"3444"),(72,71.6,735,740.7,"3"),(69,68.7,714.3,722.2,"4"),(69,68.7,726.7,736,"3"),(68,67.7,714.9,720.5,"3"),
 (68,67.7,729.7,731.7,"1"),(68,66.6,659.9,665,"54"),(66,65.7,660,663.3,"3"),(66.8,65.9,728.4,735.1,"3"),(66.8,65.9,762.6,769.3,"55"),
 (65.9,64.7,714.9,727.2,"4554"),(65.9,64.7,734,741.8,"55"),(65.9,64.7,754.2,769.3,"4566"),(64.7,63.8,734,741.3,"44"),(64.7,63.8,749.1,769.3,"5566"),(64.7,63.8,720.5,727.2,"4"),
 (63.8,62.9,719.4,734,"4554"),(63.8,62.9,734,746.3,"333"),(63.8,62.9,749,755.3,"5"),(63.8,62.9,763.2,769.3,"3"),
 (62.9,61.7,714.9,727.2,"343"),(62.9,61.7,734,744.1,"33"),(62.9,61.7,756.4,762.6,"5"),(61.7,60.9,713.2,717.1,"3"),(61.7,60.9,736.2,744.1,"3"),
 (59.8,59,734.5,743,"55"),(58.6,58.4,713.8,722.2,"3"),
]
all_runs = (runs_round_levels + runs_top_right + runs_2024_lower + runs_late_2024 +
            runs_early_2025 + runs_mid_2025 + runs_late_2025 + runs_2026)

tick_prices = [40, 50, 75, 100, 125, 150, 200]
tick_dates = [(2024,"June"),(2024,"September"),(2024,"December"),(2025,"March"),(2025,"June"),(2025,"September"),
              (2025,"December"),(2026,"March"),(2026,"June")]

ORIGIN = pd.Timestamp("2024-06-01")
def when(d):
    return (ORIGIN + pd.Timedelta(days=d)).strftime("%Y-%m-%dT%H:%M:%S")

cells, halo, blend = [], [], []
for a, b, d0, d1, digits in all_runs:
    lo, hi = min(a, b), max(a, b)
    step = (d1 - d0) / len(digits)
    for i, c in enumerate(digits):
        s, e = d0 + i * step, d0 + (i + 1) * step
        v = int(c)
        cells.append(dict(t0=when(s), t1=when(e), lo=lo, hi=hi, v=v))
        halo.append(dict(t0=when(s - 0.6), t1=when(e + 0.6), lo=lo * 0.9972, hi=hi * 1.0028, v=max(v - 1.5, 1)))
        blend.append(dict(t0=when(s - step * 0.35 - 0.25), t1=when(e + step * 0.35 + 0.25), lo=lo * 0.9988, hi=hi * 1.0012, v=v))
cells = pd.DataFrame(cells)
halo = pd.DataFrame(halo)
blend = pd.DataFrame(blend)
line_df = pd.DataFrame({"t": [when(d) for d in price_day], "p": price_k})

x_scale = alt.Scale(domain=[alt.DateTime(year=2024, month="June", date=1),
                            alt.DateTime(year=2026, month="July", date=9)])
y_scale = alt.Scale(type="log", domain=[33.6, 218.6], nice=False)
c_scale = alt.Scale(domain=[0, 2.7, 6.8, 8.2, 9.2],
                    range=["#1e3a7b", "#1f9c8b", "#eda623", "#f88d1a", "#ff4a12"], interpolate="rgb")

font = "Lato"
x_axis = alt.Axis(values=[alt.DateTime(year=y, month=m, date=1) for y, m in tick_dates], format="%b %Y",
                  title=None, grid=False, domain=False, ticks=False, labelColor="#989a9f", labelFontSize=18.5,
                  labelFont=font, labelFontWeight=300, labelPadding=5, labelAngle=0, labelFlush=False, labelOverlap=False)
y_axis = alt.Axis(values=tick_prices, title=None, grid=True, gridColor="#2a2e39", gridWidth=1.3, domain=False, ticks=False,
                  labelExpr="'$' + datum.value + 'K'", labelColor="#989a9f", labelFontSize=18.5, labelFont=font,
                  labelFontWeight=300, labelPadding=7, labelOverlap=False)

def rects(df, opacity):
    return alt.Chart(df).mark_rect(opacity=opacity, strokeWidth=0, clip=True).encode(
        x=alt.X("t0:T", scale=x_scale, axis=x_axis), x2="t1:T",
        y=alt.Y("lo:Q", scale=y_scale, axis=y_axis), y2="hi:Q",
        color=alt.Color("v:Q", scale=c_scale, legend=None))

price_line = alt.Chart(line_df).mark_line(color="#fdd94e", strokeWidth=3.1, strokeJoin="miter", clip=False).encode(
    x=alt.X("t:T", scale=x_scale, axis=x_axis), y=alt.Y("p:Q", scale=y_scale, axis=y_axis))

legend_df = pd.DataFrame({"label": ["Low Density / High Density", "BTC price"]})
gradient = alt.Gradient(gradient="linear", x1=0, x2=1, y1=0, y2=0, stops=[
    alt.GradientStop(color="#1e3a7b", offset=0), alt.GradientStop(color="#1f9c8b", offset=0.33),
    alt.GradientStop(color="#eda623", offset=0.68), alt.GradientStop(color="#ff4a12", offset=1)])
legend_bar = alt.Chart(legend_df.head(1)).mark_rect(color=gradient, cornerRadius=3).encode(
    x=alt.value(-94), x2=alt.value(41), y=alt.value(1128), y2=alt.value(1145))
legend_rule = alt.Chart(legend_df.head(1)).mark_rule(color="#e9cf55", strokeWidth=4).encode(
    x=alt.value(353), x2=alt.value(393), y=alt.value(1136))
legend_t1 = alt.Chart(legend_df.iloc[[0]]).mark_text(align="left", baseline="middle", font=font, fontWeight=300,
    fontSize=21.5, color="#aeb8c8").encode(x=alt.value(54), y=alt.value(1137), text="label:N")
legend_t2 = alt.Chart(legend_df.iloc[[1]]).mark_text(align="left", baseline="middle", font=font, fontWeight=300,
    fontSize=21.5, color="#aeb8c8").encode(x=alt.value(406), y=alt.value(1137), text="label:N")

chart = alt.layer(rects(halo, 0.5), rects(cells, 1.0), rects(blend, 0.5), price_line,
                  legend_bar, legend_rule, legend_t1, legend_t2).resolve_scale(color="shared").properties(
    width=2285, height=1053, background="#0c121d",
    padding={"left": 110, "top": 0, "right": 5, "bottom": 115},
    autosize=alt.AutoSizeParams(type="none"),
).configure_view(fill="#0a0e18", stroke=None)

chart.save("out.html", embed_options={"renderer": "svg", "actions": False,
                                      "defaultStyle": "body{margin:0;background:#0c121d;overflow:hidden}"})
